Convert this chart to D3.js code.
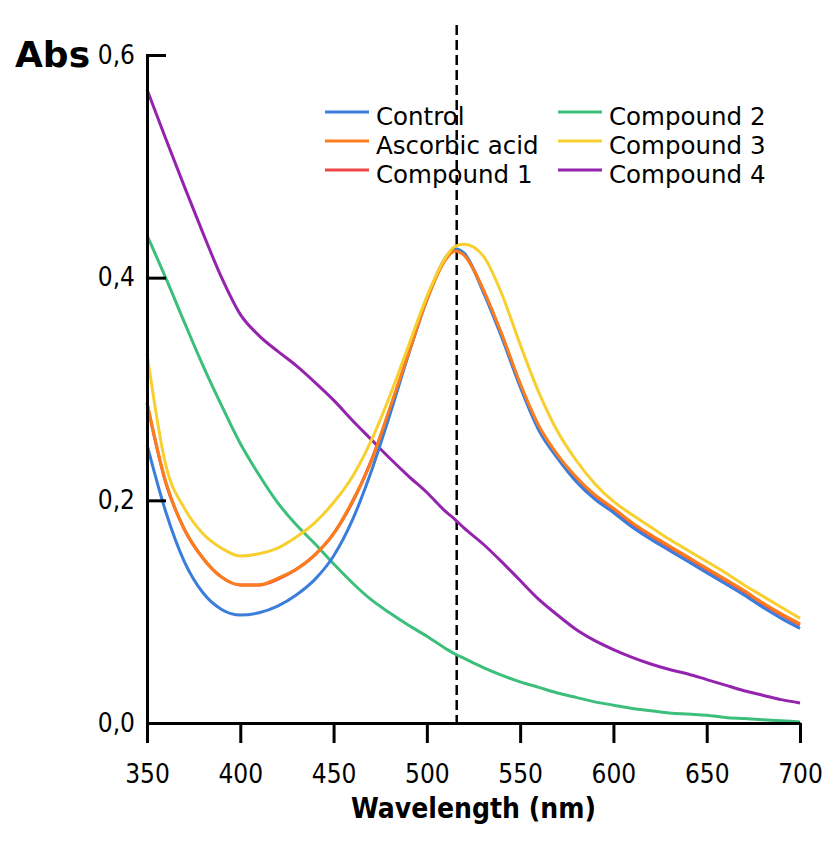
<!DOCTYPE html>
<html lang="en">

<head>
  <meta charset="utf-8">
  <title>Abs spectra</title>
  <script src="https://d3js.org/d3.v7.min.js"></script>
  <style type="text/css">
    body { margin: 0; background: #fff; }
    svg text { font-family: "DejaVu Sans Condensed", "DejaVu Sans", sans-serif; fill: #000; }
  </style>
</head>

<body>
  <script type="text/javascript">
    // wavelengths (nm)
    var wavelength = [350, 360, 370, 380, 390, 400, 410, 420, 430, 440, 450, 460, 470, 480, 490, 500, 510, 515, 520,
      530, 540, 550, 560, 570, 580, 590, 600, 610, 620, 630, 640, 650, 660, 670, 680, 690, 700];

    var control = [0.250, 0.190, 0.145, 0.117, 0.102, 0.097, 0.099, 0.105, 0.115, 0.129, 0.150, 0.182, 0.225, 0.276, 0.330, 0.380, 0.418, 0.426, 0.422,
      0.388, 0.347, 0.302, 0.263, 0.238, 0.217, 0.201, 0.189, 0.176, 0.165, 0.155, 0.145, 0.135, 0.125, 0.115, 0.104, 0.094, 0.085];
    var ascorbic = [0.288, 0.217, 0.174, 0.148, 0.131, 0.124, 0.124, 0.130, 0.138, 0.151, 0.170, 0.199, 0.234, 0.282, 0.331, 0.380, 0.416, 0.424, 0.420,
      0.390, 0.350, 0.305, 0.267, 0.241, 0.221, 0.205, 0.193, 0.180, 0.169, 0.159, 0.149, 0.139, 0.129, 0.119, 0.108, 0.098, 0.089];
    var compound1 = [0.287, 0.216, 0.174, 0.148, 0.131, 0.124, 0.124, 0.129, 0.138, 0.151, 0.170, 0.198, 0.235, 0.281, 0.331, 0.381, 0.417, 0.425, 0.421,
      0.390, 0.349, 0.304, 0.266, 0.240, 0.220, 0.204, 0.192, 0.179, 0.168, 0.158, 0.148, 0.138, 0.128, 0.118, 0.107, 0.097, 0.088];
    var compound2 = [0.438, 0.400, 0.360, 0.321, 0.285, 0.251, 0.223, 0.198, 0.178, 0.161, 0.143, 0.126, 0.111, 0.099, 0.088, 0.078, 0.067, 0.062, 0.058,
      0.050, 0.043, 0.037, 0.032, 0.027, 0.023, 0.019, 0.016, 0.013, 0.011, 0.009, 0.008, 0.007, 0.005, 0.004, 0.003, 0.002, 0.001];
    var compound3 = [0.332, 0.232, 0.193, 0.170, 0.157, 0.150, 0.152, 0.157, 0.167, 0.180, 0.198, 0.221, 0.253, 0.293, 0.338, 0.383, 0.418, 0.428, 0.430,
      0.420, 0.386, 0.340, 0.297, 0.262, 0.236, 0.215, 0.199, 0.187, 0.176, 0.165, 0.155, 0.145, 0.135, 0.124, 0.114, 0.104, 0.094];
    var compound4 = [0.569, 0.525, 0.482, 0.440, 0.400, 0.367, 0.348, 0.334, 0.321, 0.306, 0.290, 0.272, 0.255, 0.238, 0.222, 0.207, 0.190, 0.183, 0.175,
      0.161, 0.145, 0.128, 0.111, 0.097, 0.084, 0.074, 0.066, 0.059, 0.053, 0.048, 0.044, 0.039, 0.034, 0.029, 0.025, 0.021, 0.018];

    var xTicks = [350, 400, 450, 500, 550, 600, 650, 700];
    var yTicks = [0, 0.2, 0.4, 0.6];
    var markerNm = 516;

    // legend order (two columns of three)
    var seriesNames = ["Control", "Ascorbic acid", "Compound 1", "Compound 2", "Compound 3", "Compound 4"];
    var seriesValues = [control, ascorbic, compound1, compound2, compound3, compound4];
    var seriesColors = ["#3a7ddb", "#fb7d1c", "#ee4646", "#3dbf7c", "#f7cf2f", "#9423ae"];
    // draw order: green, purple, red, blue, orange, yellow
    var drawOrder = [3, 5, 2, 0, 1, 4];

    var w = 840;
    var h = 843;
    var margin = { top: 55, right: 40, bottom: 120, left: 147 };

    var svg = d3.select("body")
      .append("svg")
      .attr("width", w)
      .attr("height", h);

    var x = d3.scaleLinear()
      .domain([350, 700])
      .range([margin.left, w - margin.right]);

    var y = d3.scaleLinear()
      .domain([0, 0.6])
      .range([h - margin.bottom, margin.top]);

    var fmt = function (d) { return d3.format(".1f")(d).replace(".", ","); };

    // dashed marker line
    svg.append("line")
      .attr("x1", x(markerNm)).attr("x2", x(markerNm))
      .attr("y1", 25).attr("y2", y(0))
      .attr("stroke", "#000")
      .attr("stroke-width", 2.5)
      .attr("stroke-dasharray", "10,5");

    // curves
    var line = d3.line()
      .x(function (d, i) { return x(wavelength[i]); })
      .y(function (d) { return y(d); })
      .curve(d3.curveMonotoneX);

    drawOrder.forEach(function (k) {
      svg.append("path")
        .datum(seriesValues[k])
        .attr("d", line)
        .attr("fill", "none")
        .attr("stroke", seriesColors[k])
        .attr("stroke-width", 3)
        .attr("stroke-linejoin", "round");
    });

    // y axis, ticks pointing inward
    var yAxis = svg.append("g")
      .attr("transform", "translate(" + margin.left + ",0)")
      .call(d3.axisLeft(y).tickValues(yTicks).tickFormat(fmt).tickSize(-19).tickPadding(12));

    // x axis
    var xAxis = svg.append("g")
      .attr("transform", "translate(0," + y(0) + ")")
      .call(d3.axisBottom(x).tickValues(xTicks).tickSize(20).tickSizeOuter(0).tickPadding(22));

    [yAxis, xAxis].forEach(function (g) {
      g.selectAll("path, line").attr("stroke", "#000").attr("stroke-width", 3);
      g.selectAll("text").style("font-size", "26px").attr("fill", "#000");
    });

    // titles
    svg.append("text")
      .attr("x", 15).attr("y", 67)
      .style("font-family", "DejaVu Sans")
      .style("font-weight", "bold")
      .style("font-size", "36px")
      .text("Abs");

    svg.append("text")
      .attr("x", (x(350) + x(700)) / 2).attr("y", 818)
      .attr("text-anchor", "middle")
      .style("font-weight", "bold")
      .style("font-size", "28px")
      .text("Wavelength (nm)");

    // legend
    var legend = svg.append("g");
    seriesNames.forEach(function (name, i) {
      var col = Math.floor(i / 3);
      var row = i % 3;
      var lx = col === 0 ? 325 : 558;
      var ly = 112 + row * 29;
      legend.append("line")
        .attr("x1", lx).attr("x2", lx + 44)
        .attr("y1", ly).attr("y2", ly)
        .attr("stroke", seriesColors[i])
        .attr("stroke-width", 3);
      legend.append("text")
        .attr("x", lx + 51).attr("y", ly + 13)
        .style("font-family", "DejaVu Sans")
        .style("font-size", "24.5px")
        .text(name);
    });
  </script>
</body>

</html>
